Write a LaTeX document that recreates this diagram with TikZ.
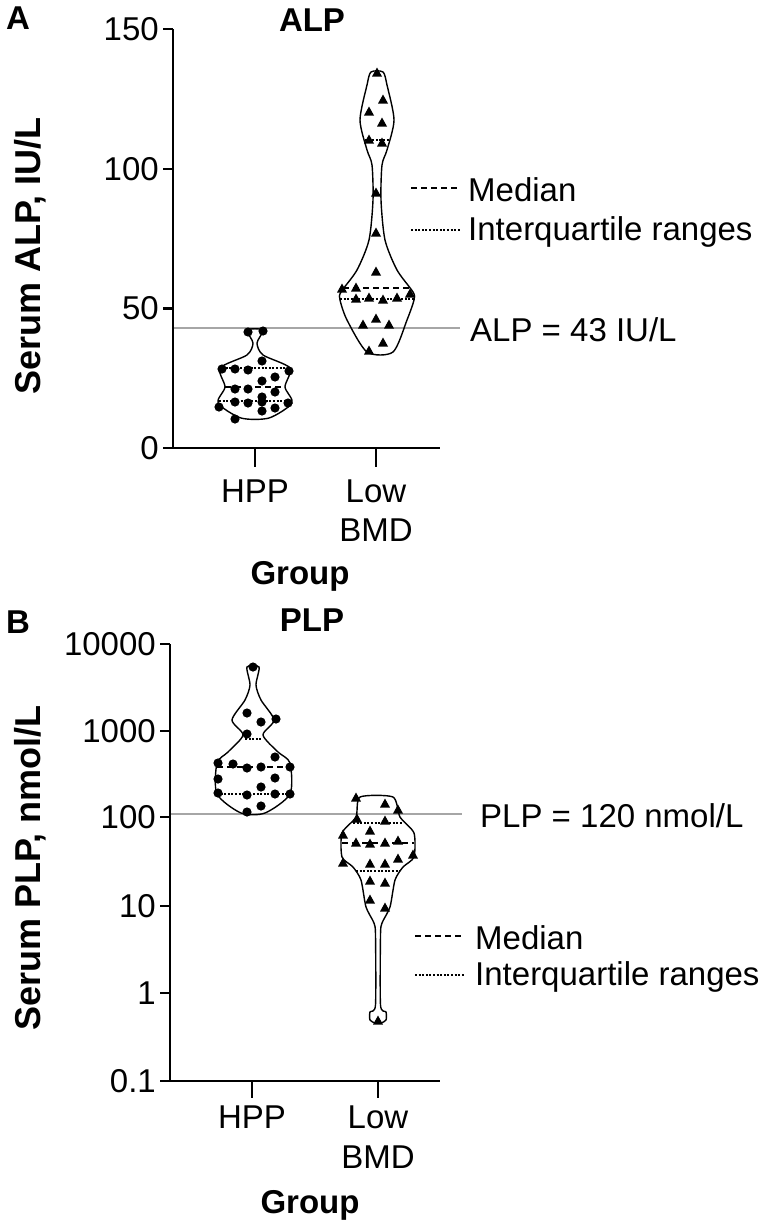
\documentclass[tikz,border=0pt]{standalone}
\usepackage{fontspec}
\setmainfont{Liberation Sans}
\begin{document}
\begin{tikzpicture}[x=1pt,y=-1pt,
  txt/.style={inner sep=0pt,font=\fontsize{33}{38}\selectfont},
  btxt/.style={inner sep=0pt,font=\fontsize{33}{38}\selectfont\bfseries},
  ytxt/.style={inner sep=0pt,font=\fontsize{36}{40}\selectfont\bfseries},
  axis/.style={line width=2.2pt},
  vio/.style={line width=1.4pt},
  med/.style={line width=1.5pt,dash pattern=on 6pt off 4pt},
  iqr/.style={line width=1.5pt,dash pattern=on 2pt off 1.6pt},
  refl/.style={line width=1.3pt,gray!70}]
\useasboundingbox (0,0) rectangle (772,1226);
\newcommand\dotp[2]{\fill (#1,#2) circle (4.6);}
\newcommand\trip[2]{\fill (#1-5,#2+4.5)--(#1+5,#2+4.5)--(#1,#2-4.5)--cycle;}
% ================= Panel A
\node[btxt] (labA) at (18,18) {A};
\node[btxt] (titA) at (312,20) {ALP};
\draw[refl] (173,328) -- (460,328);
\node[txt,anchor=west] (refA) at (470,330) {ALP = 43 IU/L};
\draw[axis] (173,29) -- (173,448) -- (440,448);
\foreach \v/\y in {150/29,100/169,50/308.5,0/448}{
  \draw[axis] (163,\y) -- (173,\y);
  \node[txt,anchor=east] at (159,\y) {\v};}
\draw[axis] (255,448) -- (255,467);
\draw[axis] (376,448) -- (376,467);
\node[txt] (hA) at (255,491) {HPP};
\node[txt] (lA) at (376,491) {Low};
\node[txt] (bA) at (376,530) {BMD};
\node[btxt] (gA) at (300,576) {Group};
\node[ytxt,rotate=90] (yA) at (30,256) {Serum ALP, IU/L};
% legend A
\draw[med] (411,188) -- (458,188);
\node[txt,anchor=west] (mA) at (468,190) {Median};
\draw[iqr] (411,230) -- (460,230);
\node[txt,anchor=west] (qA) at (468,232) {Interquartile ranges};
% HPP violin A (center 255)
\draw[vio] plot[smooth cycle,tension=0.45] coordinates {
 (263,330)(257,343)(263,355)(290,368)(285,387)(292,403)(269,418)
 (241,418)(218,403)(225,387)(220,368)(247,355)(253,343)(247,330)};
\draw[med] (225,387) -- (285,387);
\draw[iqr] (222,368) -- (288,368);
\draw[iqr] (219,401) -- (291,401);
\foreach \x/\y in {248/332,263/331,262/361,222/369,235/369,248/370,289/371,262/381,275/377,235/389,248/389,275/392,262/397,235/402,248/403,262/402,288/403,219/407,262/411,275/408,235/419}{\dotp{\x}{\y}}
% Low BMD violin A (center 377)
\draw[vio] plot[smooth cycle,tension=0.45] coordinates {
 (383,72)(387,85)(394,120)(387,150)(382,165)(381,200)(385,240)(397,270)(413,292)(414,300)(407,320)(393,352)
 (367,352)(347,320)(340,300)(341,292)(357,270)(369,240)(373,200)(372,165)(367,150)(360,120)(367,85)(371,72)};
\draw[med] (343,288) -- (411,288);
\draw[iqr] (365,140) -- (389,140);
\draw[iqr] (340,299) -- (414,299);
\foreach \x/\y in {377/72,383/99,369/111,382/122,369/139,382/142,376/192,376/232,376/271,342/288,356/287,356/298,369/297,383/299,397/297,410/293,363/324,376/318,389/324,383/342,369/350}{\trip{\x}{\y}}
% ================= Panel B
\node[btxt] (labB) at (18,622) {B};
\node[btxt] (titB) at (312,620) {PLP};
\draw[refl] (170,814) -- (462,814);
\node[txt,anchor=west] (refB) at (480,816) {PLP = 120 nmol/L};
\draw[axis] (170,644) -- (170,1081) -- (440,1081);
\foreach \v/\y in {10000/644,1000/731,100/817,10/906,1/993,0.1/1081}{
  \draw[axis] (160,\y) -- (170,\y);
  \node[txt,anchor=east] at (156,\y) {\v};}
\draw[axis] (252,1081) -- (252,1098);
\draw[axis] (378,1081) -- (378,1098);
\node[txt] (hB) at (252,1117) {HPP};
\node[txt] (lB) at (378,1117) {Low};
\node[txt] (bB) at (378,1157) {BMD};
\node[btxt] (gB) at (310,1205) {Group};
\node[ytxt,rotate=90] (yB) at (30,868) {Serum PLP, nmol/L};
% legend B
\draw[med] (415,936) -- (463,936);
\node[txt,anchor=west] (mB) at (475,938) {Median};
\draw[iqr] (415,975) -- (465,975);
\node[txt,anchor=west] (qB) at (475,977) {Interquartile ranges};
% HPP violin B (center 253)
\draw[vio] plot[smooth cycle,tension=0.45] coordinates {
 (259,667)(256,685)(261,700)(274,720)(263,735)(278,752)(290,763)(290,794)(265,813)
 (241,813)(217,794)(217,763)(228,752)(243,735)(232,720)(245,700)(250,685)(247,667)};
\draw[med] (217,767) -- (289,767);
\draw[iqr] (245,739) -- (261,739);
\draw[iqr] (217,794) -- (289,794);
\foreach \x/\y in {253/667,247/713,261/722,276/719,247/734,275/757,218/763,233/764,247/768,261/767,290/767,218/779,275/778,261/787,218/793,247/795,275/794,290/794,261/806,247/812}{\dotp{\x}{\y}}
% Low BMD violin B (center 378)
\draw[vio] plot[smooth cycle,tension=0.4] coordinates {
 (393,797)(400,817)(414,833)(414,857)(403,867)(395,880)(390,907)(382,923)(380.5,935)(380.5,1005)(386,1012)(386,1020)(381,1023)
 (375,1023)(370,1020)(370,1012)(375.5,1005)(375.5,935)(374,923)(366,907)(361,880)(353,867)(342,857)(342,833)(356,817)(360,797)};
\draw[med] (342,843) -- (414,843);
\draw[iqr] (353,823) -- (403,823);
\draw[iqr] (356,871) -- (400,871);
\foreach \x/\y in {356/797,385/803,398/809,357/818,385/820,370/830,343/834,356/842,370/843,385/842,398/840,413/854,343/862,370/863,385/863,398/858,370/880,385/882,370/899,385/907,378/1020}{\trip{\x}{\y}}
\end{tikzpicture}
\end{document}
